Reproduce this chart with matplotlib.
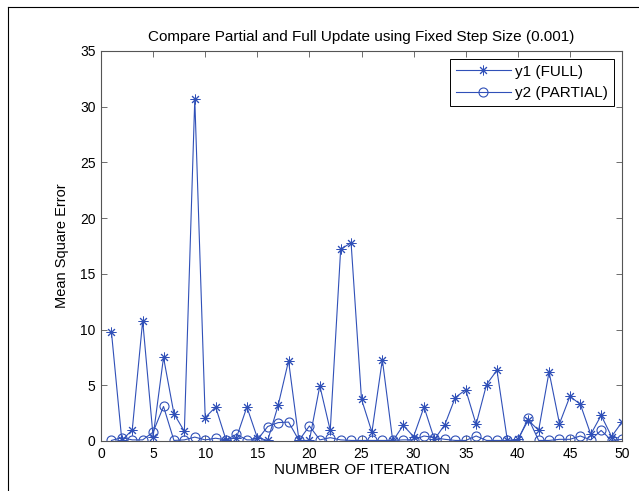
import matplotlib
matplotlib.use("Agg")
import matplotlib.pyplot as plt
from matplotlib.lines import Line2D

plt.rcParams['font.family'] = ['Liberation Sans', 'DejaVu Sans']

iterations = list(range(1, 51))
y1_full = [9.8, 0.05, 1.0, 10.8, 0.4, 7.5, 2.45, 0.87, 30.7, 2.1,
           3.05, 0.1, 0.3, 3.05, 0.3, 0.05, 3.2, 7.2, 0.05, 0.05,
           4.95, 0.95, 17.2, 17.8, 3.75, 0.8, 7.3, 0.0, 1.4, 0.4,
           3.05, 0.15, 1.47, 3.9, 4.6, 1.5, 5.07, 6.35, 0.05, 0.15,
           1.86, 0.96, 6.2, 1.56, 4.0, 3.3, 0.6, 2.3, 0.4, 1.7]
y2_partial = [0.05, 0.3, 0.1, 0.1, 0.8, 3.1, 0.05, 0.1, 0.35, 0.1,
              0.25, 0.1, 0.6, 0.1, 0.1, 1.3, 1.65, 1.7, 0.05, 1.35,
              0.1, 0.3, 0.1, 0.05, 0.05, 0.05, 0.05, 0.05, 0.1, 0.1,
              0.45, 0.3, 0.15, 0.05, 0.05, 0.45, 0.05, 0.05, 0.05, 0.05,
              2.05, 0.05, 0.05, 0.15, 0.15, 0.45, 0.1, 0.95, 0.05, 0.15]

blue = '#3050b8'

fig = plt.figure(figsize=(6.39, 4.91), dpi=100)
ax = fig.add_axes([101 / 639, 50 / 491, 521 / 639, 390 / 491])

# MATLAB style asterisk: 8 spokes
ax.plot(iterations, y1_full, color=blue, lw=0.8, marker=(8, 2, 0),
        markersize=7, markeredgewidth=0.7, label='y1 (FULL)')
ax.plot(iterations, y2_partial, color=blue, lw=0.8, marker='o', markersize=6.5,
        markerfacecolor='none', markeredgewidth=0.8, label='y2 (PARTIAL)')

ax.set_xlim(0, 50)
ax.set_ylim(0, 35)
ax.set_xticks(range(0, 51, 5))
ax.set_yticks(range(0, 36, 5))
ax.tick_params(direction='in', top=True, right=True, labelsize=10,
               length=4, width=0.6, colors='#555555', labelcolor='black',
               pad=4)
for s in ax.spines.values():
    s.set_color('#555555')
    s.set_linewidth(0.8)

ax.set_title('Compare Partial and Full Update using Fixed Step Size (0.001)',
             fontsize=11, pad=7.5)
ax.set_xlabel('NUMBER OF ITERATION', fontsize=11, labelpad=2)
ax.set_ylabel('Mean Square Error', fontsize=10.5, labelpad=8)

leg = ax.legend(loc='upper right', fontsize=11, fancybox=False,
                edgecolor='black', framealpha=1, borderaxespad=0.55,
                handlelength=3.6, labelspacing=0.5, handletextpad=0.3,
                borderpad=0.35)
leg.get_frame().set_linewidth(0.7)

# outer frame lines (top and left edges)
fig.add_artist(Line2D([8 / 639, 1], [1 - 7 / 491, 1 - 7 / 491],
                      transform=fig.transFigure, color='black', lw=0.8))
fig.add_artist(Line2D([8 / 639, 8 / 639], [0, 1 - 7 / 491],
                      transform=fig.transFigure, color='black', lw=0.8))

fig.savefig('out.png', dpi=100)
